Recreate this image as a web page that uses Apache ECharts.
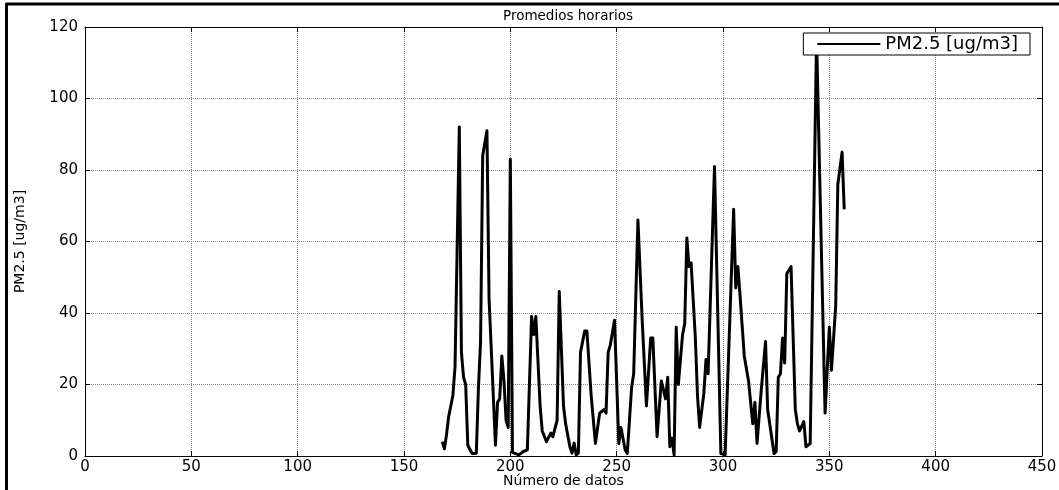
<!DOCTYPE html>
<html>
<head>
<meta charset="utf-8">
<script src="https://cdn.jsdelivr.net/npm/echarts@6/dist/echarts.min.js"></script>
<style>
html,body{margin:0;padding:0;background:#fff;}
#chart{width:1059px;height:490px;}
</style>
</head>
<body>
<div id="chart"></div>
<script>
// Data index (Número de datos) of each vertex
const dataIndex = [168,169,170,171,173,174,176,177,178,179,180,182,184,185,186,187,189,190,193,194,195,196,197,198,199,200,201,204,206,208,210,211,212,214,215,217,219,220,222,223,225,226,228,229,230,231,232,233,235,236,238,240,242,244,245,246,247,249,251,252,254,255,257,258,260,262,264,266,267,269,271,273,274,275,276,277,278,279,281,282,283,284,285,287,288,289,291,292,293,296,299,301,305,306,307,308,310,312,314,315,316,318,320,321,324,325,326,327,328,329,330,332,334,335,336,338,339,341,344,348,350,351,353,354,356,357];
// PM2.5 hourly averages [ug/m3]
const pm25 = [4,2,6,11,17,25,92,29,22,20,3,0.7,0.8,19,32,84,91,44,3,15,16,28,21,10,8,83,1,0.3,1.2,1.7,39,34,39,14,7,4,6.4,5.4,10,46,14,9,2.6,0.8,3.6,0.3,0.8,29,35,35,17,3.5,12,13,12,29,31,38,3.5,8,1.7,0.7,19,23,66,38,14,33,33,5.4,21,16,22,2.6,5,0.3,36,20,34,37,61,53,54,33,17,8,17.5,27,23,81,0.7,0.3,69,47,53,45,28,21,9,15,3.5,18.5,32,13,0.7,1.2,22,23,33,26,51,53,13,9,7,9.6,2.6,3.5,117,12,36,24,42,76,85,69];
const xTicks = [0,50,100,150,200,250,300,350,400,450];
const yTicks = [0,20,40,60,80,100,120];
const seriesName = 'PM2.5 [ug/m3]';

const chart = echarts.init(document.getElementById('chart'), null, {renderer:'canvas'});
const font = 'DejaVu Sans';
const gridLine = {show:true, lineStyle:{color:'#8a8a8a', type:'dotted', width:1}};
const axisLine = {show:true, onZero:false, lineStyle:{color:'#000', width:1}};
const tick = {show:true, inside:true, length:5, lineStyle:{color:'#000'}};

chart.setOption({
  animation:false,
  backgroundColor:'#fff',
  title:{text:'Promedios horarios', left:563, textAlign:'center', top:4,
    textStyle:{fontFamily:font, fontSize:13.5, fontWeight:'normal', color:'#000'}},
  graphic:[
    {type:'line', shape:{x1:6, y1:4, x2:1059, y2:4}, style:{stroke:'#000', lineWidth:3}, z:100},
    {type:'line', shape:{x1:6.5, y1:3, x2:6.5, y2:490}, style:{stroke:'#000', lineWidth:3}, z:100}
  ],
  grid:{left:85, top:27, right:17, bottom:34, containLabel:false, outerBoundsMode:'none'},
  legend:{
    data:[{name:seriesName, icon:'rect'}], right:29, top:33, orient:'horizontal',
    backgroundColor:'#fff', borderColor:'#000', borderWidth:1,
    padding:[2,12,2,14], itemWidth:63, itemHeight:2,
    itemStyle:{color:'#000'},
    textStyle:{fontFamily:font, fontSize:18, color:'#000'}
  },
  xAxis:[
    {type:'value', min:0, max:450, interval:50, position:'bottom',
     name:'Número de datos', nameLocation:'middle', nameGap:18, nameMoveOverlap:false,
     nameTextStyle:{fontFamily:font, fontSize:14, color:'#000'},
     axisLine:axisLine, axisTick:tick, splitLine:gridLine,
     axisLabel:{fontFamily:font, fontSize:15, color:'#000', margin:4,
       formatter:v => xTicks.includes(v) ? String(v) : ''}},
    {type:'value', min:0, max:450, interval:50, position:'top',
     axisLine:axisLine, axisTick:tick, splitLine:{show:false}, axisLabel:{show:false}}
  ],
  yAxis:[
    {type:'value', min:0, max:120, interval:20, position:'left',
     name:'PM2.5 [ug/m3]', nameLocation:'middle', nameGap:58, nameMoveOverlap:false,
     nameTextStyle:{fontFamily:font, fontSize:14, color:'#000'},
     axisLine:axisLine, axisTick:tick, splitLine:gridLine,
     axisLabel:{fontFamily:font, fontSize:15, color:'#000', margin:7,
       formatter:v => yTicks.includes(v) ? String(v) : ''}},
    {type:'value', min:0, max:120, interval:20, position:'right',
     axisLine:axisLine, axisTick:tick, splitLine:{show:false}, axisLabel:{show:false}}
  ],
  series:[{
    name:seriesName, type:'line', xAxisIndex:0, yAxisIndex:0,
    data:dataIndex.map((x,i)=>[x,pm25[i]]),
    symbol:'none', smooth:false,
    lineStyle:{color:'#000', width:3, join:'round'},
    itemStyle:{color:'#000'},
    clip:true
  }]
});
</script>
</body>
</html>
